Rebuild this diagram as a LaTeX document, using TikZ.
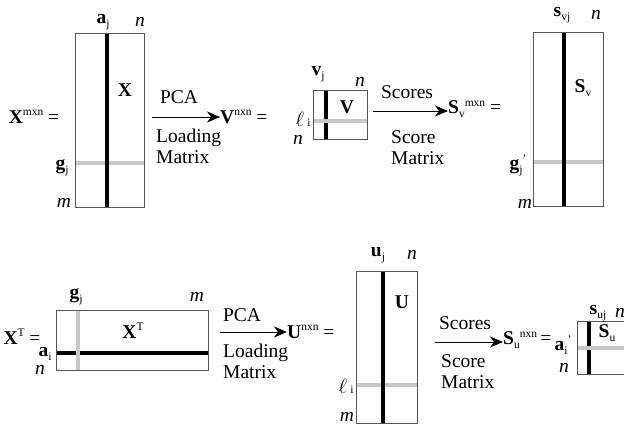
\documentclass[tikz,border=0pt]{standalone}
\usepackage{fontspec}
\setmainfont{Liberation Serif}
\usetikzlibrary{arrows.meta,positioning,calc}
\definecolor{stripegray}{RGB}{200,200,200}
\definecolor{framegray}{RGB}{85,85,85}
\newcommand{\smalltx}[1]{{\fontsize{11.5}{12}\selectfont #1}}
\newcommand{\bsub}[2]{\textbf{#1}\raisebox{-0.4ex}{\smalltx{#2}}}
\newcommand{\dimsup}[1]{\raisebox{0.85ex}{\smalltx{#1}}}

\begin{document}
\begin{tikzpicture}[x=1pt,y=-1pt,
  every node/.style={font=\fontsize{19.5}{21}\selectfont,inner sep=0pt},
  mat/.style={draw=framegray,line width=0.9pt},
  colbar/.style={line width=4.5pt,black},
  rowbar/.style={line width=4pt,stripegray},
  flow/.style={-{Stealth[length=13pt,width=11pt,inset=4pt]},line width=0.9pt},
  note/.style={align=left,anchor=west}]
  \useasboundingbox (0,0) rectangle (624,426);
  \clip (0,0) rectangle (624,426);

  % X = data matrix (m x n)
  \node (Xeq) at (34,117) {\textbf{X}\dimsup{mxn} =};
  \draw[rowbar] (75,163) -- (144,163);
  \draw[colbar] (107,33) -- (107,207);
  \draw[mat] (75,33) rectangle (144,207);
  \node (aj) at (103,22) {\bsub{a}{j}};
  \node (nX) at (140,22) {\textit{n}};
  \node (Xlab) at (125,90) {\textbf{X}};
  \node (gj) at (62,168) {\bsub{g}{j}};
  \node (mX) at (64,203) {\textit{m}};

  % PCA step to V
  \node (pcaV) at (179,97) {PCA};
  \node[note] (loadV) at (156,146) {Loading\\Matrix};
  \coordinate (pcaVs) at (152,117);
  \node[anchor=west] (Veq) at (220,117) {\textbf{V}\dimsup{nxn} =};
  \draw[flow] (pcaVs) -- (Veq.west);

  % V = loading matrix (n x n)
  \draw[colbar] (326,90) -- (326,139);
  \draw[rowbar] (313,121) -- (367,121);
  \draw[mat] (313,90) rectangle (367,139);
  \node (vj) at (318,74) {\bsub{v}{j}};
  \node (nV) at (360,82) {\textit{n}};
  \node (Vlab) at (347,107) {\textbf{V}};
  \node (li) at (303,119) {$\ell$\,\smalltx{i}};
  \node (nV2) at (298,140) {\textit{n}};

  % scores step to S_v
  \node (scV) at (407,92) {Scores};
  \node[note] (smV) at (391,148) {Score\\Matrix};
  \coordinate (scVs) at (373,111);
  \node[anchor=west] (Sveq) at (448,109) {\bsub{S}{v}\dimsup{mxn} =};
  \draw[flow] (scVs) -- (Sveq.west |- scVs);

  % S_v = score matrix (m x n)
  \draw[rowbar] (533,162) -- (603,162);
  \draw[colbar] (564,32) -- (564,206);
  \draw[mat] (533,32) rectangle (603,206);
  \node (svj) at (562,15) {\bsub{s}{vj}};
  \node (nS) at (596,15) {\textit{n}};
  \node (Svlab) at (583,88) {\bsub{S}{v}};
  \node (gjp) at (518,165) {\bsub{g}{j}\dimsup{'}};
  \node (mS) at (525,204) {\textit{m}};

  % X^T = transposed data matrix (n x m)
  \node (XTeq) at (22,337) {\textbf{X}\dimsup{T} =};
  \draw[colbar] (56,353) -- (208,353);
  \draw[rowbar] (78,310) -- (78,370);
  \draw[mat] (56,310) rectangle (208,370);
  \node (gjT) at (76,297) {\bsub{g}{j}};
  \node (mT) at (197,297) {\textit{m}};
  \node (XTlab) at (133,331) {\textbf{X}\dimsup{T}};
  \node (ai) at (45,354) {\bsub{a}{i}};
  \node (nT) at (40,370) {\textit{n}};

  % PCA step to U
  \node (pcaU) at (242,315) {PCA};
  \node[note] (loadU) at (223,361) {Loading\\Matrix};
  \coordinate (pcaUs) at (220,332);
  \node[anchor=west] (Ueq) at (287,332) {\textbf{U}\dimsup{nxn} =};
  \draw[flow] (pcaUs) -- (Ueq.west);

  % U = loading matrix
  \draw[rowbar] (356,385) -- (417,385);
  \draw[colbar] (383,271) -- (383,423);
  \draw[mat] (356,271) rectangle (417,423);
  \node (uj) at (378,255) {\bsub{u}{j}};
  \node (nU) at (412,255) {\textit{n}};
  \node (Ulab) at (402,302) {\textbf{U}};
  \node (liU) at (346,386) {$\ell$\,\smalltx{i}};
  \node (mU) at (347,417) {\textit{m}};

  % scores step to S_u
  \node (scU) at (465,323) {Scores};
  \node[note] (smU) at (441,372) {Score\\Matrix};
  \coordinate (scUs) at (435,342);
  \node[anchor=west] (Sueq) at (503,340) {\bsub{S}{u}\dimsup{nxn}\,=};
  \draw[flow] (scUs) -- (Sueq.west |- scUs);

  % S_u = score matrix
  \draw[colbar] (589,321) -- (589,374);
  \draw[rowbar] (577,348) -- (630,348);
  \draw[mat] (577,321) rectangle (632,374);
  \node (aip) at (563,345) {\bsub{a}{i}\dimsup{'}};
  \node (nSu) at (564,368) {\textit{n}};
  \node (Sulab) at (607,333) {\bsub{S}{u}};
  \node (suj) at (598,313) {\bsub{s}{uj}};
  \node (nSu2) at (620,313) {\textit{n}};
\end{tikzpicture}
\end{document}
